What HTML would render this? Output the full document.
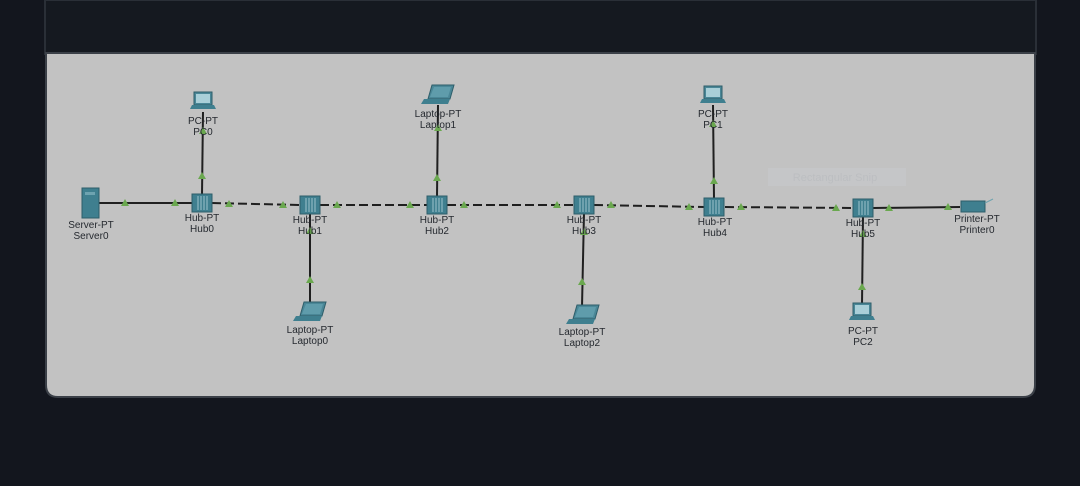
<!DOCTYPE html>
<html><head><meta charset="utf-8"><style>
html,body{margin:0;padding:0;background:#13161e;width:1080px;height:486px;overflow:hidden}
svg{display:block}
text{font-family:"Liberation Sans",sans-serif;font-size:10px;fill:#25292f;text-anchor:middle}
</style></head><body>
<svg width="1080" height="486" viewBox="0 0 1080 486">
<defs>
<g id="hub"><rect x="-10" y="-9" width="20" height="18" fill="#3f7f8f" stroke="#2e5e6a"/><line x1="-4" y1="-7" x2="-4" y2="7" stroke="#9cc3cc"/><line x1="-1" y1="-7" x2="-1" y2="7" stroke="#9cc3cc"/><line x1="2" y1="-7" x2="2" y2="7" stroke="#9cc3cc"/><line x1="5" y1="-7" x2="5" y2="7" stroke="#9cc3cc"/></g>
<g id="pc"><rect x="-9" y="-10" width="18" height="13" fill="#4a8797" stroke="#2e5e6a"/><rect x="-7" y="-8" width="14" height="9" fill="#a9cfd8"/><polygon points="-11,3 11,3 13,7 -13,7" fill="#3f7f8f"/></g>
<g id="lap"><polygon points="-6,-11 16,-11 12,3 -10,3" fill="#4a8797" stroke="#2e5e6a"/><polygon points="-4,-9 13,-9 10,1 -8,1" fill="#5f9cab"/><polygon points="-14,3 12,3 10,8 -17,8" fill="#3f7f8f"/></g>
<polygon id="tri" points="0,-4 4,3 -4,3" fill="#6aa84f"/>
</defs>
<rect x="45" y="0" width="991" height="54" fill="#151920" stroke="#2a2f37" stroke-width="2"/>
<path d="M46 53 H1035 V385 Q1035 397 1023 397 H58 Q46 397 46 385 Z" fill="#c2c2c2" stroke="#3b4048" stroke-width="2"/>
<rect x="768" y="168" width="138" height="18" fill="#c5c6c8"/>
<text x="835" y="181" style="fill:#bcbec1;font-size:11px">Rectangular Snip</text>
<g stroke="#1f1f1f" stroke-width="2" fill="none">
<line x1="99" y1="203" x2="193" y2="203"/>
<line x1="203" y1="112" x2="202" y2="195"/>
<line x1="310" y1="213" x2="310" y2="305"/>
<line x1="438" y1="105" x2="437" y2="197"/>
<line x1="584" y1="213" x2="582" y2="307"/>
<line x1="713" y1="105" x2="714" y2="199"/>
<line x1="863" y1="216" x2="862" y2="305"/>
<line x1="873" y1="208" x2="960" y2="207"/>
<g stroke-dasharray="9,4">
<line x1="212" y1="203" x2="300" y2="205"/>
<line x1="320" y1="205" x2="427" y2="205"/>
<line x1="447" y1="205" x2="574" y2="205"/>
<line x1="594" y1="205" x2="704" y2="207"/>
<line x1="725" y1="207" x2="853" y2="208"/>
</g></g>
<use href="#tri" x="125" y="203"/><use href="#tri" x="175" y="203"/>
<use href="#tri" x="202" y="176"/><use href="#tri" x="203" y="131"/>
<use href="#tri" x="229" y="204"/><use href="#tri" x="283" y="205"/>
<use href="#tri" x="337" y="205"/><use href="#tri" x="410" y="205"/>
<use href="#tri" x="464" y="205"/><use href="#tri" x="557" y="205"/>
<use href="#tri" x="611" y="205"/><use href="#tri" x="689" y="207"/>
<use href="#tri" x="741" y="207"/><use href="#tri" x="836" y="208"/>
<use href="#tri" x="889" y="208"/><use href="#tri" x="948" y="207"/>
<use href="#tri" x="437" y="178"/><use href="#tri" x="438" y="128"/>
<use href="#tri" x="714" y="181"/><use href="#tri" x="713" y="124"/>
<use href="#tri" x="310" y="280"/><use href="#tri" x="310" y="231"/>
<use href="#tri" x="582" y="282"/><use href="#tri" x="584" y="232"/>
<use href="#tri" x="862" y="287"/><use href="#tri" x="863" y="234"/>
<rect x="82" y="188" width="17" height="30" fill="#3f7f8f" stroke="#2e5e6a"/><rect x="85" y="192" width="10" height="3" fill="#6ea3b0"/>
<use href="#hub" x="202" y="203"/><use href="#hub" x="310" y="205"/><use href="#hub" x="437" y="205"/>
<use href="#hub" x="584" y="205"/><use href="#hub" x="714" y="207"/><use href="#hub" x="863" y="208"/>
<use href="#pc" x="203" y="102"/><use href="#pc" x="713" y="96"/><use href="#pc" x="862" y="313"/>
<use href="#lap" x="438" y="96"/><use href="#lap" x="310" y="313"/><use href="#lap" x="583" y="316"/>
<rect x="961" y="201" width="24" height="11" fill="#3f7f8f" stroke="#2e5e6a"/><line x1="985" y1="203" x2="993" y2="199" stroke="#6ea3b0"/>
<text x="91" y="228">Server-PT</text><text x="91" y="239">Server0</text>
<text x="202" y="221">Hub-PT</text><text x="202" y="232">Hub0</text>
<text x="310" y="223">Hub-PT</text><text x="310" y="234">Hub1</text>
<text x="437" y="223">Hub-PT</text><text x="437" y="234">Hub2</text>
<text x="584" y="223">Hub-PT</text><text x="584" y="234">Hub3</text>
<text x="715" y="225">Hub-PT</text><text x="715" y="236">Hub4</text>
<text x="863" y="226">Hub-PT</text><text x="863" y="237">Hub5</text>
<text x="977" y="222">Printer-PT</text><text x="977" y="233">Printer0</text>
<text x="203" y="124">PC-PT</text><text x="203" y="135">PC0</text>
<text x="713" y="117">PC-PT</text><text x="713" y="128">PC1</text>
<text x="863" y="334">PC-PT</text><text x="863" y="345">PC2</text>
<text x="438" y="117">Laptop-PT</text><text x="438" y="128">Laptop1</text>
<text x="310" y="333">Laptop-PT</text><text x="310" y="344">Laptop0</text>
<text x="582" y="335">Laptop-PT</text><text x="582" y="346">Laptop2</text>
</svg>
</body></html>
